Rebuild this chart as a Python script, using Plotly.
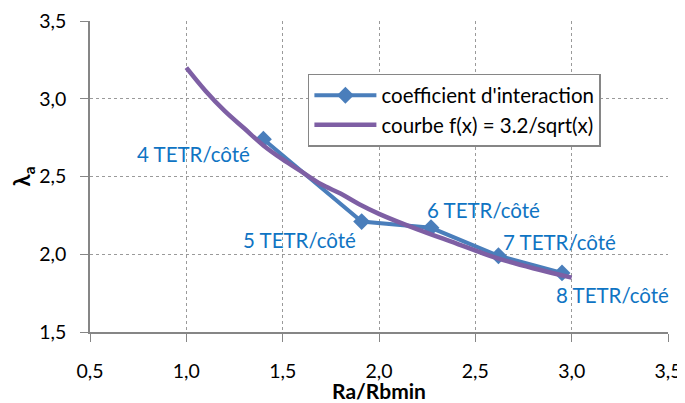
import plotly.graph_objects as go

# Data
ratio = [1.40, 1.91, 2.27, 2.62, 2.95]
coef = [2.74, 2.21, 2.17, 1.99, 1.88]
labels = ["4 TETR/côté", "5 TETR/côté", "6 TETR/côté", "7 TETR/côté", "8 TETR/côté"]

curve_x = [1.0, 1.1, 1.2, 1.3, 1.4, 1.5, 1.6, 1.7, 1.8, 1.9, 2.0, 2.2, 2.4, 2.6, 2.8, 3.0]
curve_y = [3.20, 3.05, 2.92, 2.81, 2.70, 2.61, 2.53, 2.45, 2.39, 2.32, 2.26, 2.16, 2.07, 1.98, 1.91, 1.85]

x_ticks = [0.5, 1.0, 1.5, 2.0, 2.5, 3.0, 3.5]
y_ticks = [1.5, 2.0, 2.5, 3.0, 3.5]

label_shift = [(-70, -15), (-62, -18), (52, 18), (61, 14), (50, -22)]

FONT = "Lato"
BLUE = "#4A7EBB"
PURPLE = "#7E5FA4"
LABEL = "#0F74C3"

fig = go.Figure()
fig.add_trace(go.Scatter(
    x=ratio, y=coef, mode="lines+markers", name="coefficient d'interaction",
    line=dict(color=BLUE, width=4),
    marker=dict(symbol="diamond", size=13, color=BLUE),
))
fig.add_trace(go.Scatter(
    x=curve_x, y=curve_y, mode="lines", name="courbe f(x) = 3.2/sqrt(x)",
    line=dict(color=PURPLE, width=4.5, shape="spline"),
))

for xv, yv, t, (dx, dy) in zip(ratio, coef, labels, label_shift):
    fig.add_annotation(x=xv, y=yv, text=t, showarrow=False, xshift=dx, yshift=dy,
                       font=dict(family=FONT, size=20.5, color=LABEL))

axis_common = dict(
    showgrid=True, gridcolor="#9a9a9a", griddash="dot", gridwidth=1,
    showline=True, linecolor="#868686", linewidth=1.5,
    ticks="outside", ticklen=8, tickcolor="#868686",
    tickfont=dict(family=FONT, size=19.5, color="#000"),
    tickformat=".1f", zeroline=False, mirror=False, automargin=False,
)

fig.update_xaxes(range=[0.5, 3.5], tickvals=x_ticks, ticklabelstandoff=13,
                 title=dict(text="<b>Ra/Rbmin</b>", font=dict(family=FONT, size=21, color="#000"), standoff=25),
                 **axis_common)
fig.update_yaxes(range=[1.5, 3.5], tickvals=y_ticks, ticklabelstandoff=10,
                 title=dict(text="<b>λ<sub>a</sub></b>", font=dict(family=FONT, size=22, color="#000"), standoff=24),
                 **axis_common)

# page body has an 8px margin: figure is sized/offset to compensate
fig.update_layout(
    width=677, height=395,
    margin=dict(l=82, r=17, t=13, b=71),
    paper_bgcolor="white", plot_bgcolor="white",
    separators=", ",
    font=dict(family=FONT, size=18, color="#000"),
    legend=dict(x=0.377, y=0.83, xanchor="left", yanchor="top",
                bgcolor="white", bordercolor="#868686", borderwidth=1.5,
                font=dict(family=FONT, size=20.5, color="#000"),
                tracegroupgap=0, itemwidth=62),
    showlegend=True,
)

fig.write_html("out.html")
